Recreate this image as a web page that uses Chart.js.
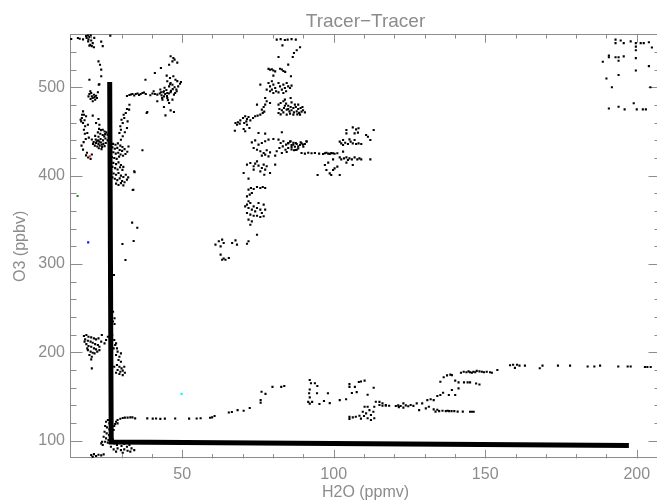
<!DOCTYPE html>
<html>
<head>
<meta charset="utf-8">
<title>Tracer-Tracer</title>
<script src="https://cdn.jsdelivr.net/npm/chart.js@4.4.1/dist/chart.umd.min.js"></script>
<style>
  html, body { margin: 0; padding: 0; overflow: hidden; background: #fff; }
  #wrap { width: 665px; height: 502px; }
</style>
</head>
<body>
<div id="wrap"><canvas id="mycanvas" width="665" height="502"></canvas></div>
<script>
// axis setup
var xMin = 13, xMax = 208;
var yMin = 80, yMax = 560;
var xMinor = [20, 30, 40, 60, 70, 80, 90, 110, 120, 130, 140, 160, 170, 180, 190];
var yMinor = [120, 140, 160, 180, 220, 240, 260, 280, 320, 340, 360, 380, 420, 440, 460, 480, 520, 540];

// H2O (ppmv), O3 (ppbv) pairs
var topLeft = [
  [13.4,554.7],[15.6,555.8],[16.2,555],[17.3,554.2],[18.3,558],[18.9,558.8],[19.4,556.9],[19.8,559],
  [19.1,554.2],[20,553],[20.2,546.6],[20.9,545.4],[19.4,547.2],[23.3,551.7],[23.8,546.6],[26.3,558.5],
  [18.5,556],[19,552],[20.5,550],[21,556],[19.7,548],
  [22.4,529.4],[22.9,525.6],[23.3,520],[23.3,512.5],[22.5,503],[19.4,508.6],[22.7,503.5],
  [19.1,489.8],[19.4,492.4],[20,493.6],[20.2,489.8],[20.5,487.9],[20.9,491.6],[21.1,489],[21.3,486],
  [21.6,490.5],[21.9,487.9],[19.8,486.8],[20.5,484.2],[22.2,494.4],[19.7,495.5],
  [17.3,472.8],[17.6,469],[16.9,465.3],[16.7,461.5],[17.3,459.6],[17.8,462.7],[18.3,467.2],[18,455.9],
  [17.6,452],[18.7,448.3],[18.9,457.7],[16.5,463.3],[17,469],[20.5,467.9],[22.4,464.1],[21.6,459.6],[22.7,457.7]
];

var leftClump = [
  [22.6,453],[23.2,451.5],[23.8,452],[24.4,450],[25,449],[22.2,449],[23,447.5],[23.8,446],[24.6,447],
  [25.4,446.5],[22.4,444],[21.5,441],[22.3,440],[23.1,441.5],[23.9,440],[24.7,442],[20.8,438],[21.6,437],
  [22.4,436],[23.2,437.5],[24,436],[24.8,437],[21.2,434],[22,433],[22.8,434],[23.6,432.5],[24.4,433.5],
  [20.6,436],[22.5,431],[23.4,430],[25.4,440],[26,443],[21.3,445],[20.2,441],[24.3,444.5],[22.7,438.5],
  [23.5,435],[21.8,439],
  [17.3,429.5],[18.6,426],[19,420.5],[19.8,419],[20.2,424],[18.3,423],[16.8,434],[17.5,438],[18.2,441.5],
  [19.2,443],[17.9,447.5],
  [26.5,437],[27.2,436],[28,435],[28.8,436.5],[29.6,434],[30.3,432.5],[27,432],[27.8,430.5],[28.6,431.5],
  [29.4,429],[30.2,428],[31,430],[26.4,428],[27.3,426.5],[28.1,425],[28.9,426],[29.7,424],[30.5,422.5],
  [31.3,424.5],[26.8,421],[27.6,420],[28.4,419],[29.2,421.5],
  [26.5,416],[27.3,414.5],[28.2,413],[29,415],[29.8,412],[30.6,410],[27,410],[27.9,408.5],[28.7,407],
  [29.5,409.5],[30.3,406.5],
  [26.6,404],[27.4,402.5],[28.2,401],[29,403],[29.8,400],[30.6,398.5],[31.4,401],[27,398],[27.8,396.5],
  [28.6,395],[29.4,397],[30.2,394],[31,392.5],[31.8,395.5],[28.2,391],[29,389.5],[29.8,391.5],[30.6,389],
  [32.2,398],[26.2,394],[26,410.5],[26.3,423],
  [31.9,427],[32.3,433],[34.2,405],[33.9,384],[36.9,428.7],[34.3,403.8],[33.7,383.8]
];

var upperBranch = [
  [29.3,448.3],[29.8,452],[29.6,455.9],[30.4,459.6],[30,463.3],[30.9,465.3],[30.7,469],[31.4,470.9],
  [29.8,440.7],[30.4,444.6],[31.1,449.1],[31.8,453.9],[32,461.5],[32.5,474.7],
  [31.8,490.2],[32.6,491.3],[33.1,491.9],[33.6,492.4],[34.2,490.7],[34.7,492.4],[35.3,493],[35.8,491.3],
  [36.3,492.4],[36.9,493.6],[37.4,494.1],[38,492.4],[38.3,470.9],[32.6,480.3],[31.8,475.4],
  [46.2,535.1],[47.1,533.2],[47.5,531.3],[46.8,529.4],[45.7,525.6],[43,521.9],[41,516.2],[44.9,513.2],
  [46,510.6],[47.1,512.5],[47.8,508.6],[45.1,506.8],[46.2,504.9],[46.8,502.9],[45.7,501.1],[44,495.5],
  [45.1,493.6],[46.2,494.4],[47.3,491.7],[48.2,495.5],[41.8,491.7],[43,494.4],[44,489.8],[45.1,487.9],
  [43.5,486],[41.8,484.2],[45.7,482.3],[46.8,486],[40.6,495.5],[37.9,508.6],[44,477.7],[46.2,473.9],
  [47.3,472],[38.5,472],[44.5,468.3],
  [42.6,493],[43.2,491],[43.8,494.5],[44.4,492.5],[45,490],[45.6,493],[46.3,496],[46.9,498],[47.5,500],
  [48.1,497.5],[44.8,497],[43.4,488],[45.3,485.5],[47.7,493.5],[48.7,501],[49.3,504],[46,503.5],[44.2,499.5],
  [42.8,497.5],[41,492.5],[40.2,493],[39.5,491],[48.4,507],[49.6,506],[48.4,528]
];

var midColumn = [
  [81.2,554],[82.5,554.5],[83.9,553.5],[84.8,554],[86.1,554.5],[87.5,554],
  [83.1,547.5],[88.9,545.3],[87.8,541.9],[86.9,538.9],[86.5,534.3],[81.8,534.3],[85,525.7],
  [78.5,520.8],[79,519.9],[79.6,520.4],[80.1,519],[80.7,518],[82.3,521],[82.9,520.2],[83.4,518.5],[84,517.5],
  [85.9,512.5],[80.1,513.2],[75.8,503],
  [78.5,504.9],[79,501.1],[79.6,506.8],[80.1,503],[80.7,499.2],[81,495.5],[81.8,504.9],[82.3,501.1],
  [82.9,497.4],[83.4,503],[83.9,499.2],[84.5,504.9],[85,501.1],[85.6,499.2],[86.1,501.9],[79,495.5],
  [80.1,493.6],[81.8,494.3],[83.4,493.6],[77.9,497.4],[79.6,497.4],[84.3,495.5],
  [74.7,480.4],[77.4,487.9],[77.9,484.2],[79,482.3],[77.4,480.4],
  [81.8,480.4],[82.5,482.3],[83.4,484.2],[84.3,481.5],[85,479.2],[85.8,477.7],[86.7,476.6],[87.5,477.7],
  [88.3,475.5],[89.1,476.6],[89.9,474],[90.5,471.7],[82.1,475.5],[82.9,474],[83.6,476.6],[84.5,474.7],
  [85.4,472.8],[86.1,474],[86.9,471.7],[87.8,472.8],[88.6,471],[89.4,472.5],[81.8,470.9],[82.5,469.4],
  [83.4,471.7],[84.5,469.1],[85.6,470.2],[86.7,469.1],[88,469.4],[88.9,469.1],[83.9,486],[86.1,483],
  [87.2,480.4],[85.8,487.9],[88.3,480.4],[89.7,477.7],[85,475.5],[83.9,479.2],
  [67.6,459.6],[68.4,460.4],[69.2,462.6],[70.1,465.3],[70.8,467.2],[71.4,464.2],[71.2,461.5],[71.9,466.4],
  [72.5,462.6],[73.4,465.3],[74.1,467.2],[74.9,467.9],[75.8,469.1],[76.6,471],[77.1,472.5],[70.5,459.6],
  [71.4,457.7],[70.3,452.8],[70.8,450.2],[69,458.9],[68.1,457.7],[67.4,450.9],[72.2,454],[76.3,474.7],[76.9,477.7],
  [75.2,448.3],[77.4,447.6],[82.9,449.1],[73,437.7],[74.1,440],[75.2,435.1],[76.3,437],[77.4,438.9],
  [78.5,440.8],[80.1,441.5],[73.6,431.3],[74.7,429.4],[75.8,427.6],[76.9,425.7],[77.9,428.7],[79,426.4],
  [76.3,422.7],[77.4,423.8],[78.5,421.9],[80.7,422.7],[81.8,440.8],[82.5,437],[83.4,438.9],[84.3,435.1],
  [85,437],[85.8,438.9],[86.7,435.1],[87.5,437],[88.3,433.2],[89.1,437.7],[89.9,435.1],[91,438.9],
  [82.1,431.3],[83.2,433.2],[84.1,429.4],[85,431.3],[86.1,432.5],[86.9,428.7],[87.8,429.4],[81.2,427.6],
  [82.9,425.7],[84.5,426.8],
  [71.4,412.5],[72.5,414.4],[73.6,410.6],[74.1,413.6],[74.7,416.2],[75.2,411.3],[76.3,408.7],[76.9,412.5],
  [77.4,406.8],[77.9,410.6],[79,403],[80.7,412.5],[70.3,403],[71.9,396.6],[73.6,406.8],[75.8,404.9],[77.1,401.1],
  [71.9,384.2],[72.7,386.1],[73.6,384.9],[74.7,387.2],[75.8,386.1],[76.6,387.2],[77.4,386.1],[71.4,376.6],
  [72.3,378.5],[73,380.4],
  [70.8,365.3],[71.4,367.2],[71.9,363.4],[72.5,369.1],[73,361.5],[73.6,365.3],[74.1,359.6],[74.7,363.4],
  [75.2,369.1],[75.8,361.5],[76.3,357.8],[76.9,367.2],[71.4,357.8],[72.5,355.9],[73.6,354.7],[74.7,354.7],
  [75.8,353.2],[76.9,354],[71.9,371],[77.4,361.5],
  [72.5,344.5],[73,348.3],[71.9,350.2],[74.7,333.2],
  [61,321.9],[62.1,325.7],[62.7,320],[63.2,327.6],[63.7,323.8],[66.5,323.8],[67.6,326.8],[68.1,321.9],
  [71.4,323],[71.9,325.7],[62.7,310.6],[63.2,304.9],[64.3,304.9],[65.4,306.8],[63.7,306.3]
];

var midBranch = [
  [89.4,425.7],[90.5,425],[91.6,426],[92.7,425.3],[93.8,425.7],[95.2,425],[96.5,424.5],
  [85,436.6],[85.6,438.5],[86.1,434.7],[86.7,437.3],[87.2,432.8],[87.8,435.8],[88.3,430.9],[88.9,434.7],
  [89.4,436.6],[90,432.8],[90.5,435.8],[91.1,438.5],[86.1,429.8],[87.4,429],
  [97.1,425.3],[97.6,426],[98.2,425],[98.7,424.6],[99.2,425.5],[99.8,425.3],[100.3,424.8],[101.2,425.3],
  [102,438.5],[102.5,436.6],[103.1,440.4],[103.8,437.3],[104.7,435.8],[105.6,438.5],[106.3,436.6],
  [107.4,435.8],[108.2,436.6],[109.1,435.8],[103.1,434.7],[105.2,441.1],[106.9,440.4],[110.7,446],
  [111.3,444.1],[112.1,440.4],
  [104.2,451.7],[106.3,454.7],[107.4,452.4],[108.2,453.6],[108,448.7],[113.2,451.7],[106.9,447.9],[104.2,447.9],
  [102,420.7],[102.5,418.5],[103.4,419.6],[104.2,420.7],[104.7,417.7],[105.2,419.6],[106,418.5],[106.9,420.7],
  [107.8,418.5],[108.5,419.6],[109.1,418.5],[106.3,412.1],[104.2,414.7],[112.1,418.5],
  [94.7,400.7],[97.1,412.1],[98.2,414.7],[97.6,406.4],[98.7,402.6],[99.2,400.7],[99.8,406.4],[100.3,408.3],
  [101.2,410.2],[102,400.7],[103.1,427.2],[99.8,418.5]
];

var farRight = [
  [193,554],[193,550],[194.7,553],[195.7,550],[198,552],[199.7,550],[199.7,546],[199.7,542],[201.3,550],
  [202.3,550],[204,551],[205,545],[190.8,534],[190.8,536],[193,534],[194,534],[194,530],[195.7,535],
  [188.8,529],[199.7,533],[199.7,519],[204,524],[194,514],[190,510],[191.8,500],[204.5,500],
  [190.8,476],[194,478],[196,475],[199,482],[200,475],[202,475],[203,475]
];

var lowerLeft = [
  [17.6,218.5],[18.4,219.6],[19.1,217.7],[20,217],[20.9,215.8],[21.6,214.7],[22.4,215.8],[18,214.7],
  [18.9,213.2],[19.8,212.1],[20.5,210.9],[21.3,209.4],[22.2,208.3],[18.4,209.4],[19.1,207.2],[20,206.4],
  [20.9,204.5],[21.6,203.4],[18.9,202.6],[19.8,200.8],[20.5,199.6],[19.4,197],[20.2,195.1],[20,192.1],
  [20.2,181.9],[17.8,212.1],[18.7,204.5],[21.1,198.9],[22,200.8],[22.7,206.4],[23.3,212.1],[23.5,219.6],
  [24.4,210.2],[24.9,214],[22.7,202.6],
  [27.6,214],[27.9,208.3],[28.5,204.5],[28.7,200.8],[28.2,197],[29.3,195.1],[29,191.3],[29.8,189.4],
  [28.5,185.7],[29.3,183.8],[30,181.9],[30.9,183.8],[28.7,180],[29.6,178.1],[30.4,179.3],[31.1,177],
  [28.2,177],[29.3,175.5],[30.4,174.3],[27.6,183.8],[29.8,198.9],[27.4,204.5],[28.2,210.2],
  [25.5,217.7],[26.3,212.1],[26.9,219.6],
  [27.5,287.6],[31.3,304.5],[27.2,246],[27.7,238.6],[27.7,232.1],[27.2,235],
  [33.5,346.8],[35.2,341],[34,326],[30.3,322.7],
  [24.9,121.5],[25.5,123.4],[26,119.6],[26.5,121.5],[24.6,116.6],[25.2,115.1],[26,112.8],[26.8,115.9],
  [24.4,110.2],[25.1,108.3],[25.9,106.4],[26.6,109.1],[24.1,104.5],[24.9,102.7],[25.7,100.8],[26.3,103.8],
  [27.1,101.5],[24.6,98.9],[25.5,97.8],[27.4,112.1],[27.9,118.9],[23.8,95.1],[23.3,97],[23.6,98.9],
  [27.6,97],[28.5,95.1],[29.3,97.8],[30,94],[30.9,96.3],[31.8,93.2],[32.6,95.1],[33.3,91.3],[34.2,89.4],
  [28.7,91.3],[29.8,89.4],[30.9,90.2],[32,88.7],[28.2,87.6],[30.4,86.4],[32.9,87.6],[26.5,93.2],[27.4,90.2],
  [20,83.8],[20.9,84.9],[21.6,82.7],[22.4,84.1],[23.3,83.4],[24.1,84.5],[20.5,81.9]
];

var lowerBranch = [
  [28.7,123.4],[29.6,124.9],[30.4,125.7],[31.1,126.1],[32,126.1],[32.9,126.4],[33.6,126.4],[34.5,125.3],
  [28.2,121.5],[27.6,116.6],[28.7,119.6],
  [38.5,125.3],[40.3,125],[41.4,125.2],[42.8,124.8],[44.3,125],[47.7,125.1],[52.3,125],[54.8,125.2],
  [56.1,125.5],[59.2,126],[59.9,126.5],[60.7,128],[65.4,132],[66.4,132.5],[68.3,134.7],[70.3,134],
  [72.3,137],[75.9,146],[75.9,143],[76.2,155.5],[77.5,153],[79.8,161],[82.7,161],[83.7,162],
  [92.1,168.7],[92.5,165],[93.8,165],[92.1,158],[91.9,153.7],[92.1,149],[91.6,144],[92.1,142],[92.9,144],
  [94.6,162],[94.5,153.7],[95.3,141.5],[96.8,145],[98.1,153.7],[98.7,142.5],
  [102,146],[104.1,147],[105.2,164],[105.2,161],[107,161],[108.3,166.5],[109,167],[110.2,168],[113.2,160],
  [111.2,152],[106,154],[107.6,155],
  [105.2,127],[105.2,124.6],[106.3,126.5],[107.3,127.2],[108.5,128.3],[109.6,132.8],[110.2,138.5],
  [111.2,138.5],[110.7,131],[111.8,134.7],[112.3,129.1],[113.4,125.4],[113.4,138.5],[113.9,144.1],
  [115.1,140.4],[116.1,142.3],[117.2,140.4],[111.2,125.4],[112.3,123.4],[113.1,132.8],[109,125],[110,128],
  [115.1,144],[116.1,139.6],[117.2,139.6],[118.3,139.6],[120.5,139.3],[121.3,140],[122.1,139.3],[123,142.3],
  [123.8,140],[124.6,139],[125.4,140.5],[126.3,139.5],[127.4,142.3],[128.2,134.7],[129.2,142.3],[121.5,138],
  [123,137.5],
  [130.4,136.6],[131.4,138.5],[130.9,146],[132,146.9],[133,146],[134.2,150.6],[135.2,151.7],[136.1,154.3],
  [138,151.7],[140.1,151.7],[139,157.4],[141.2,159.3],
  [133,135.5],[133.6,133],[134.2,135],[134.8,133.5],[135.9,134],[137,133.5],[137.6,134],[138.1,133.5],
  [138.9,133.5],[139.8,133.5],[140.9,133],[142.6,133],[145,132.8],[145.6,132.8],[146.2,132.8],
  [135.2,166.8],[136.3,171.8],[137.4,174],[138.5,174.8],[139,174.3],[140.1,168],[141.2,166],[143,166],
  [144.2,166],[145,166],[147,164.8],[148.1,163.7],
  [142,177],[142.9,178],[143.8,177.5],[144.5,178.5],[145,177.5],[145.6,177],[146.1,178],[146.7,177.5],
  [147.2,179],[148.1,178.5],[148.9,178],[149.6,177.5],[150.5,178],[151.6,177.5],[152.2,177],[154,180],
  [158.2,185.5],[159.2,186],[159.8,182.5],[160.5,186],[161.3,185],[163.1,185],[168,182],[168.9,185],
  [174,185],[178,185],[183.8,184],[186,184],[187.9,185],[193.9,184],[197,184],[198,184],[202.7,183.5],
  [203.5,183.5],[204.6,183.5]
];

var redPoint = [[19.5,422]];
var greenPoint = [[15.5,377]];
var bluePoint = [[19,324.5]];
var cyanPoint = [[49.8,153]];

var fitLine = [[26.1,506],[26.6,98.5],[197.4,94.6]];

var axisColor = '#8c8c8c';
var labelFont = { family: 'Liberation Sans', size: 16 };

function toXY(list) {
  return list.map(function(p){ return { x: p[0], y: p[1] }; });
}

function dots(list, color) {
  return {
    data: toXY(list),
    pointStyle: 'rect',
    pointRadius: 1.5,
    pointBackgroundColor: color,
    pointBorderWidth: 0,
    showLine: false
  };
}

var frame = {
  id: 'frame',
  beforeDatasetsDraw: function(chart) {
    var ctx = chart.ctx, a = chart.chartArea;
    var xs = chart.scales.x, ys = chart.scales.y;
    ctx.save();
    ctx.strokeStyle = axisColor;
    ctx.lineWidth = 1;
    ctx.strokeRect(Math.round(a.left) + 0.5, Math.round(a.top) + 0.5,
      Math.round(a.right - a.left) - 1, Math.round(a.bottom - a.top) - 1);
    ctx.beginPath();
    function xTick(v, len) {
      var px = Math.round(xs.getPixelForValue(v)) + 0.5;
      ctx.moveTo(px, a.bottom); ctx.lineTo(px, a.bottom - len);
      ctx.moveTo(px, a.top); ctx.lineTo(px, a.top + len);
    }
    function yTick(v, len) {
      var py = Math.round(ys.getPixelForValue(v)) + 0.5;
      ctx.moveTo(a.left, py); ctx.lineTo(a.left + len, py);
      ctx.moveTo(a.right, py); ctx.lineTo(a.right - len, py);
    }
    xs.ticks.forEach(function(t){ xTick(t.value, 8.5); });
    xMinor.forEach(function(v){ xTick(v, 4.3); });
    ys.ticks.forEach(function(t){ yTick(t.value, 12.5); });
    yMinor.forEach(function(v){ yTick(v, 6.5); });
    ctx.stroke();
    ctx.restore();
  },
  afterDraw: function(chart) {
    var ctx = chart.ctx, a = chart.chartArea;
    ctx.save();
    ctx.fillStyle = axisColor;
    ctx.font = '19px "Liberation Sans"';
    ctx.textAlign = 'center';
    ctx.textBaseline = 'alphabetic';
    ctx.fillText('Tracer\u2212Tracer', (a.left + a.right) / 2, 27);
    ctx.restore();
  }
};

var ctx = document.getElementById('mycanvas');

var scatterChart = new Chart(ctx, {
  type: 'scatter',
  data: {
    datasets: [
      {
        data: toXY(fitLine),
        showLine: true,
        borderColor: '#000',
        borderWidth: 5,
        borderJoinStyle: 'miter',
        pointRadius: 0,
        fill: false
      },
      dots(redPoint, '#ff2a2a'),
      dots(greenPoint, '#00a000'),
      dots(bluePoint, '#1010ff'),
      dots(cyanPoint, '#00ffff'),
      dots(topLeft, '#000'),
      dots(leftClump, '#000'),
      dots(upperBranch, '#000'),
      dots(midColumn, '#000'),
      dots(midBranch, '#000'),
      dots(farRight, '#000'),
      dots(lowerLeft, '#000'),
      dots(lowerBranch, '#000')
    ]
  },
  options: {
    responsive: false,
    animation: false,
    layout: { padding: { top: 34.3, left: 0, right: 0, bottom: 0 } },
    plugins: {
      legend: { display: false },
      tooltip: { enabled: false },
      title: { display: false }
    },
    scales: {
      x: {
        type: 'linear',
        min: xMin,
        max: xMax,
        grid: { display: false, drawTicks: false },
        border: { display: false },
        ticks: { stepSize: 50, includeBounds: false, color: axisColor, font: labelFont, padding: 7, maxRotation: 0 },
        title: { display: true, text: 'H2O (ppmv)', color: axisColor, font: { family: 'Liberation Sans', size: 16, lineHeight: 1 }, padding: { top: 0, bottom: 1 } },
        afterFit: function(scale){ scale.height = 43.6; }
      },
      y: {
        type: 'linear',
        min: yMin,
        max: yMax,
        grid: { display: false, drawTicks: false },
        border: { display: false },
        ticks: { stepSize: 100, includeBounds: false, color: axisColor, font: labelFont, padding: 5 },
        title: { display: true, text: 'O3 (ppbv)', color: axisColor, font: { family: 'Liberation Sans', size: 16, lineHeight: 1 }, padding: { top: 13, bottom: 0 } },
        afterFit: function(scale){ scale.width = 70; }
      }
    }
  },
  plugins: [frame]
});
</script>
</body>
</html>
